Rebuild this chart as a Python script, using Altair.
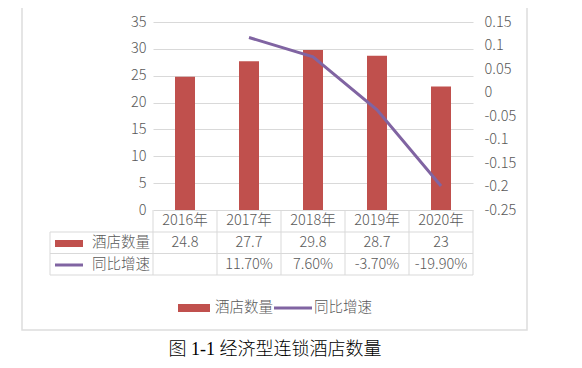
import altair as alt
import pandas as pd

# ---- data ----
years = ["2016年", "2017年", "2018年", "2019年", "2020年"]
hotel_counts = [24.8, 27.7, 29.8, 28.7, 23]
count_labels = ["24.8", "27.7", "29.8", "28.7", "23"]
growth = [None, 0.117, 0.076, -0.037, -0.199]
growth_labels = ["", "11.70%", "7.60%", "-3.70%", "-19.90%"]
series_names = ["酒店数量", "同比增速"]
left_ticks = [0, 5, 10, 15, 20, 25, 30, 35]
right_ticks = [0.15, 0.1, 0.05, 0, -0.05, -0.1, -0.15, -0.2, -0.25]
caption = ["图 1-1 经济型连锁酒店数量"]

# ---- style ----
BAR = "#C0504D"
LINE = "#8064A2"
GRID = "#D9D9D9"
TXT = "#595959"
FONT = "Noto Sans CJK SC"
FS = 14.5
FW = 300

df = pd.DataFrame({
    "year": years,
    "count": hotel_counts,
    "growth": growth,
    "count_label": count_labels,
    "growth_label": growth_labels,
})
one = pd.DataFrame({"k": [0]})
names0 = pd.DataFrame({"name": [series_names[0]]})
names1 = pd.DataFrame({"name": [series_names[1]]})
cap_df = pd.DataFrame({"t": caption})

xscale = alt.Scale(domain=years, paddingInner=0, paddingOuter=0)


def X(**kw):
    return alt.X("year:N", scale=xscale, sort=years, axis=None, **kw)


border = alt.Chart(one).mark_rect(fillOpacity=0, stroke="#DDDDDD", strokeWidth=1.5).encode(
    x=alt.value(-131), x2=alt.value(374), y=alt.value(-19), y2=alt.value(308)
)

bars = alt.Chart(df).mark_bar(color=BAR, width=20).encode(
    x=X(),
    y=alt.Y(
        "count:Q",
        scale=alt.Scale(domain=[0, 35], nice=False),
        axis=alt.Axis(
            orient="left", values=left_ticks, grid=True, gridColor=GRID, domain=False,
            ticks=False, labelColor=TXT, labelFont=FONT, labelFontSize=FS, labelFontWeight=FW,
            labelPadding=7, title=None,
        ),
    ),
)

line = alt.Chart(df).mark_line(color=LINE, strokeWidth=3).encode(
    x=X(),
    y=alt.Y(
        "growth:Q",
        scale=alt.Scale(domain=[-0.25, 0.15], nice=False, zero=False),
        axis=alt.Axis(
            orient="right", values=right_ticks, labelExpr="'' + datum.value", grid=False,
            domain=False, ticks=False, labelColor=TXT, labelFont=FONT, labelFontSize=FS,
            labelFontWeight=FW, labelPadding=11, title=None,
        ),
    ),
)

# ---- data table ----
def hrule(y, x0, x1):
    return alt.Chart(one).mark_rule(color=GRID, strokeWidth=1).encode(
        x=alt.value(x0), x2=alt.value(x1), y=alt.value(y)
    )

vrules = alt.Chart(df).mark_rule(color=GRID, strokeWidth=1).encode(
    x=X(bandPosition=0), y=alt.value(188), y2=alt.value(253)
)
vright = alt.Chart(one).mark_rule(color=GRID, strokeWidth=1).encode(
    x=alt.value(320), y=alt.value(188), y2=alt.value(253)
)
vleft = alt.Chart(one).mark_rule(color=GRID, strokeWidth=1).encode(
    x=alt.value(-103), y=alt.value(210), y2=alt.value(253)
)

def row_text(field, y):
    return alt.Chart(df).mark_text(font=FONT, fontSize=FS, fontWeight=FW, color=TXT, baseline="middle").encode(
        x=X(), y=alt.value(y), text=f"{field}:N"
    )

header = row_text("year", 199)
row1 = row_text("count_label", 221)
row2 = row_text("growth_label", 242.5)

key1 = alt.Chart(one).mark_rect(color=BAR).encode(
    x=alt.value(-98), x2=alt.value(-70), y=alt.value(218), y2=alt.value(225)
)
key2 = alt.Chart(one).mark_rule(color=LINE, strokeWidth=3).encode(
    x=alt.value(-98), x2=alt.value(-70), y=alt.value(243)
)
lab1 = alt.Chart(names0).mark_text(font=FONT, fontSize=FS, fontWeight=FW, color=TXT, align="right", baseline="middle").encode(
    x=alt.value(-3), y=alt.value(221), text="name:N"
)
lab2 = alt.Chart(names1).mark_text(font=FONT, fontSize=FS, fontWeight=FW, color=TXT, align="right", baseline="middle").encode(
    x=alt.value(-3), y=alt.value(242.5), text="name:N"
)

# ---- bottom legend ----
lg_rect = alt.Chart(one).mark_rect(color=BAR).encode(
    x=alt.value(25), x2=alt.value(57), y=alt.value(282), y2=alt.value(290)
)
lg_t1 = alt.Chart(names0).mark_text(font=FONT, fontSize=FS, fontWeight=FW, color=TXT, align="left", baseline="middle").encode(
    x=alt.value(62), y=alt.value(286), text="name:N"
)
lg_line = alt.Chart(one).mark_rule(color=LINE, strokeWidth=3).encode(
    x=alt.value(121), x2=alt.value(159), y=alt.value(286)
)
lg_t2 = alt.Chart(names1).mark_text(font=FONT, fontSize=FS, fontWeight=FW, color=TXT, align="left", baseline="middle").encode(
    x=alt.value(161), y=alt.value(286), text="name:N"
)

cap = alt.Chart(cap_df).mark_text(
    font="Liberation Serif, Noto Sans CJK SC", fontSize=18, fontWeight=300, color="#000000",
    align="center", baseline="middle"
).encode(x=alt.value(122), y=alt.value(328), text="t:N")

chart = alt.layer(
    border,
    bars,
    line,
    hrule(210, -103, 320),
    hrule(231.5, -103, 320),
    hrule(253, -103, 320),
    vrules, vright, vleft,
    header, row1, row2,
    key1, key2, lab1, lab2,
    lg_rect, lg_t1, lg_line, lg_t2,
    cap,
).resolve_scale(y="independent").properties(
    width=320,
    height=188,
    autosize=alt.AutoSizeParams(type="none"),
    padding={"left": 145, "top": 14, "right": 100, "bottom": 150},
    background="white",
).configure_view(stroke=None)

chart.save("out.html", embed_options={"renderer": "svg", "actions": False})
